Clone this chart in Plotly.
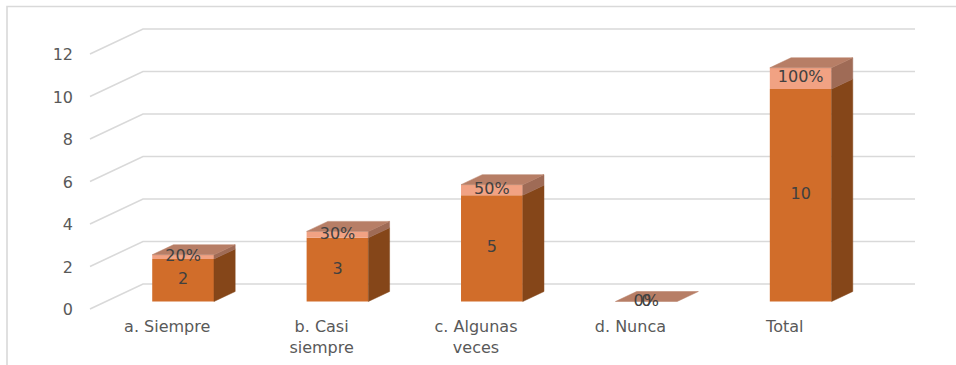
import plotly.graph_objects as go

# ---- data ----
categories = ["a. Siempre", "b. Casi<br>siempre", "c. Algunas<br>veces", "d. Nunca", "Total"]
counts = [2, 3, 5, 0, 10]
shares = [0.20, 0.30, 0.50, 0.00, 1.00]
y_ticks = [0, 2, 4, 6, 8, 10, 12]

# ---- layout geometry (pixels of the 956x365 page) ----
W, H = 956, 365
PX_X = 154.4          # pixels per category slot on the back wall
PX_Y = 21.25          # pixels per value unit
X0_PX = 143           # back-wall left edge (x = -0.5)
Y0_PX = 284           # back-wall baseline (value 0)
DX = 53 / PX_X        # oblique depth vector (front -> back) in data units
DY = 25 / PX_Y
BAR_W = 0.40
FRONT = 0.7           # bar front face sits 0.7 of the depth in front of the wall
BDEPTH = 0.4          # bar depth as a fraction of the full depth

C_FRONT = "#D16D2A"
C_SIDE = "#854619"
C_PFRONT = "#F1A283"
C_PSIDE = "#9F6B56"
C_PTOP = "#B77E66"
C_GRID = "#D9D9D9"
C_AXIS_TXT = "#595959"
C_LBL = "#404040"
FONT = "DejaVu Sans"
FS = 16

x_rng = [-0.5 - X0_PX / PX_X, -0.5 + (W - X0_PX) / PX_X]
y_rng = [(Y0_PX - H) / PX_Y, Y0_PX / PX_Y]

fig = go.Figure()

# gridlines (below all traces): oblique floor edge on the left, then across the back wall
shapes = []
for v in y_ticks:
    shapes.append(dict(
        type="path", xref="x", yref="y", layer="below",
        path=f"M {-0.5 - DX},{v - DY} L -0.5,{v} L 4.5,{v}",
        line=dict(color=C_GRID, width=1.6)))

# chart border
shapes.append(dict(type="rect", xref="paper", yref="paper",
                   x0=7 / W, x1=1.05, y0=-0.05, y1=1 - 6.5 / H,
                   line=dict(color=C_GRID, width=1.6), layer="below"))

# value-axis labels on the front plane
fig.add_trace(go.Scatter(
    x=[-0.5 - DX - 0.11] * len(y_ticks), y=[v - DY - 0.1 for v in y_ticks],
    mode="text", text=[str(v) for v in y_ticks], textposition="middle left",
    textfont=dict(family=FONT, size=FS, color=C_AXIS_TXT),
    hoverinfo="skip", showlegend=False))

# category labels on the front plane
fig.add_trace(go.Scatter(
    x=[i - DX for i in range(len(categories))],
    y=[(Y0_PX - 320) / PX_Y] * len(categories),
    mode="text", text=categories, textposition="bottom center",
    textfont=dict(family=FONT, size=FS, color=C_AXIS_TXT),
    hoverinfo="skip", showlegend=False))

fx = [i - FRONT * DX for i in range(len(categories))]
base = -FRONT * DY
bdx, bdy = BDEPTH * DX, BDEPTH * DY


def poly(xs, ys, color):
    fig.add_trace(go.Scatter(
        x=xs + [xs[0]], y=ys + [ys[0]], mode="lines", fill="toself",
        fillcolor=color, line=dict(color=color, width=0.5),
        hoverinfo="skip", showlegend=False))


# side and top faces of each stacked column
for i, (c, s) in enumerate(zip(counts, shares)):
    xl, xr = fx[i] - BAR_W / 2, fx[i] + BAR_W / 2
    y1 = base + c
    y2 = base + c + s
    if c > 0:
        poly([xr, xr + bdx, xr + bdx, xr], [base, base + bdy, y1 + bdy, y1], C_SIDE)
    if s > 0:
        poly([xr, xr + bdx, xr + bdx, xr], [y1, y1 + bdy, y2 + bdy, y2], C_PSIDE)
    poly([xl, xl + bdx, xr + bdx, xr], [y2, y2 + bdy, y2 + bdy, y2], C_PTOP)

# front faces
fig.add_trace(go.Bar(
    x=fx, y=counts, base=[base] * len(counts), width=BAR_W,
    marker=dict(color=C_FRONT, line=dict(width=0)), hoverinfo="skip", showlegend=False))
fig.add_trace(go.Bar(
    x=fx, y=shares, base=[base + c for c in counts], width=BAR_W,
    marker=dict(color=C_PFRONT, line=dict(width=0)), hoverinfo="skip", showlegend=False))

# data labels
fig.add_trace(go.Scatter(
    x=fx, y=[base + c / 2 for c in counts], mode="text",
    text=[str(c) for c in counts], textposition="middle center",
    textfont=dict(family=FONT, size=FS, color=C_LBL), hoverinfo="skip", showlegend=False))
fig.add_trace(go.Scatter(
    x=fx, y=[base + c + s / 2 for c, s in zip(counts, shares)], mode="text",
    text=[f"{s:.0%}" for s in shares], textposition="middle center",
    textfont=dict(family=FONT, size=FS, color=C_LBL), hoverinfo="skip", showlegend=False))

fig.update_layout(
    width=W, height=H, margin=dict(l=0, r=0, t=0, b=0),
    paper_bgcolor="white", plot_bgcolor="white", barmode="overlay",
    xaxis=dict(range=x_rng, visible=False, fixedrange=True),
    yaxis=dict(range=y_rng, visible=False, fixedrange=True),
    shapes=shapes,
)

fig.write_html("out.html")
